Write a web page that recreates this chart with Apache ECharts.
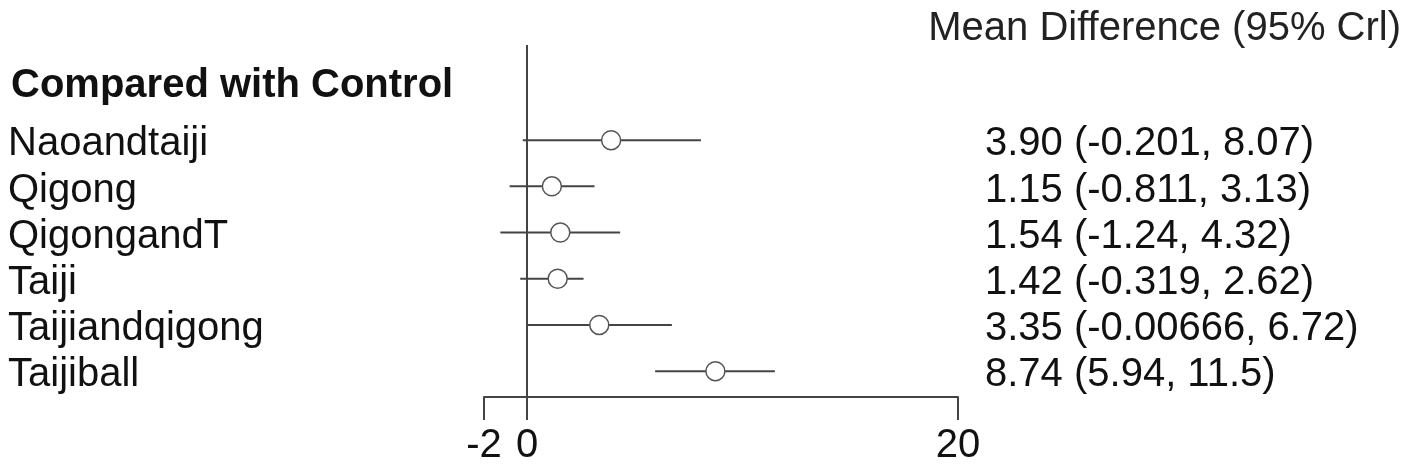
<!DOCTYPE html>
<html>

<head>
    <meta charset="utf-8">
    <script src="https://cdn.jsdelivr.net/npm/echarts@6/dist/echarts.min.js"></script>
</head>

<body style="margin:0;background:#fff;">
    <div id="main" style="width:1414px;height:470px;"></div>

    <script>
        // forest plot data
        var names = ['Naoandtaiji', 'Qigong', 'QigongandT', 'Taiji', 'Taijiandqigong', 'Taijiball'];
        var means = [3.90, 1.15, 1.54, 1.42, 3.35, 8.74];
        var lower = [-0.201, -0.811, -1.24, -0.319, -0.00666, 5.94];
        var upper = [8.07, 3.13, 4.32, 2.62, 6.72, 11.5];
        var ciText = ['3.90 (-0.201, 8.07)', '1.15 (-0.811, 3.13)', '1.54 (-1.24, 4.32)',
            '1.42 (-0.319, 2.62)', '3.35 (-0.00666, 6.72)', '8.74 (5.94, 11.5)'];
        var xTicks = [-2, 0, 20];

        var rows = names.map(function (n, i) { return i; });
        // text sits a little below the marker line in the original
        var labelRows = rows.map(function (i) { return i + 0.09; });
        var font = 'Liberation Sans, Arial, sans-serif';

        var myChart = echarts.init(document.getElementById('main'));

        var option = {
            backgroundColor: '#fff',
            animation: false,
            title: [
                {
                    text: 'Compared with Control',
                    left: 6,
                    top: 61,
                    textStyle: { fontFamily: font, fontSize: 40, fontWeight: 'bold', color: '#111' }
                },
                {
                    text: 'Mean Difference (95% Crl)',
                    right: 8,
                    top: 4,
                    textStyle: { fontFamily: font, fontSize: 40, fontWeight: 'normal', color: '#222' }
                }
            ],
            grid: { left: 484, right: 456, top: 45, bottom: 73 },
            xAxis: {
                type: 'value',
                min: -2,
                max: 20,
                splitLine: { show: false },
                axisLine: { onZero: false, lineStyle: { color: '#444', width: 2 } },
                axisTick: { show: true, length: 23, customValues: xTicks, lineStyle: { color: '#444', width: 2 } },
                axisLabel: {
                    customValues: xTicks,
                    margin: 29,
                    fontFamily: font,
                    fontSize: 40,
                    color: '#111'
                }
            },
            yAxis: [
                {
                    type: 'value',
                    inverse: true,
                    min: -2.06,
                    max: 5.56,
                    position: 'left',
                    splitLine: { show: false },
                    axisLine: { show: false },
                    axisTick: { show: false },
                    axisLabel: {
                        customValues: labelRows,
                        align: 'left',
                        margin: 476,
                        fontFamily: font,
                        fontSize: 40,
                        color: '#111',
                        formatter: function (v) { return names[Math.round(v)]; }
                    }
                },
                {
                    type: 'value',
                    inverse: true,
                    min: -2.06,
                    max: 5.56,
                    position: 'right',
                    splitLine: { show: false },
                    axisLine: { show: false },
                    axisTick: { show: false },
                    axisLabel: {
                        customValues: labelRows,
                        align: 'left',
                        margin: 27,
                        fontFamily: font,
                        fontSize: 40,
                        color: '#111',
                        formatter: function (v) { return ciText[Math.round(v)]; }
                    }
                }
            ],
            series: [
                {
                    // credible interval whiskers
                    type: 'custom',
                    renderItem: function (params, api) {
                        var a = api.coord([api.value(1), api.value(0)]);
                        var b = api.coord([api.value(2), api.value(0)]);
                        return {
                            type: 'line',
                            shape: { x1: a[0], y1: a[1], x2: b[0], y2: b[1] },
                            style: { stroke: '#444', lineWidth: 2 }
                        };
                    },
                    encode: { x: [1, 2], y: 0 },
                    data: rows.map(function (i) { return [i, lower[i], upper[i]]; }),
                    markLine: {
                        silent: true,
                        symbol: 'none',
                        label: { show: false },
                        lineStyle: { color: '#444', width: 2, type: 'solid' },
                        data: [{ xAxis: 0 }]
                    },
                    z: 2
                },
                {
                    type: 'scatter',
                    symbol: 'circle',
                    symbolSize: 19,
                    itemStyle: { color: '#fff', borderColor: '#555', borderWidth: 1.5, opacity: 1 },
                    data: rows.map(function (i) { return [means[i], i]; }),
                    z: 3
                }
            ]
        };

        myChart.setOption(option);
    </script>
</body>

</html>
